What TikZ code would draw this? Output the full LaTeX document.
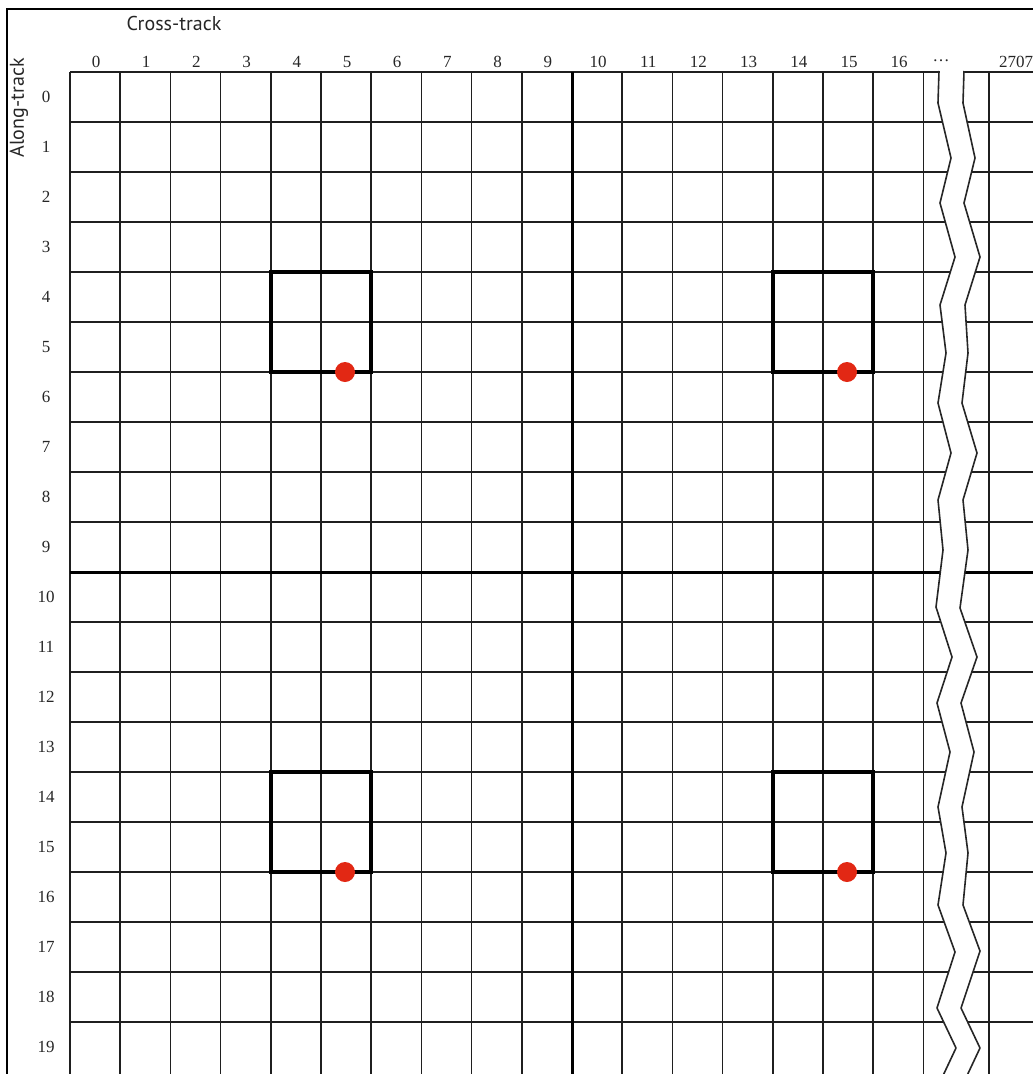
\documentclass[tikz,border=0pt]{standalone}
\usepackage{fontspec}
\setmainfont{Liberation Serif}
\newfontfamily\axisfont{PT Sans}
\definecolor{dotred}{RGB}{226,40,20}
\begin{document}
\begin{tikzpicture}[x=1pt,y=-1pt,
  gridline/.style={line width=1.7pt, black!88},
  heavyline/.style={line width=3pt, black},
  boxline/.style={line width=3.5pt, black, line join=miter},
  zigline/.style={line width=1.6pt, black!85, line join=round},
  framel/.style={line width=2.5pt, black},
  reddot/.style={circle, fill=dotred, draw=none, inner sep=0pt, minimum size=20pt},
  num/.style={font=\fontsize{17}{17}\selectfont, inner sep=0pt, text=black!85},
  axislbl/.style={font=\axisfont\fontsize{20}{20}\selectfont, inner sep=0pt, text=black!85}]
\useasboundingbox (0,0) rectangle (1033,1074);
\begin{scope}
\clip (0,0) rectangle (1033,1074);
% frame
\draw[framel] (7,1090) -- (7,9) -- (1050,9);
% grid
\foreach \i in {0,...,17} \draw[gridline] ({70+50.2*\i},72) -- ({70+50.2*\i},1080);
\draw[gridline] (989,72) -- (989,1080);
\foreach \j in {0,...,19} \draw[gridline] (70,{72+50*\j}) -- (1040,{72+50*\j});
\draw[heavyline] (572,72) -- (572,1080);
\draw[heavyline] (70,572) -- (1040,572);
% break band
\fill[white] (939,68) -- (938,103) -- (951,158) -- (940,203) -- (955,257) -- (940,305) -- (946,353) -- (938,403) -- (951,453) -- (938,500) -- (943,550) -- (936,607) -- (952,657) -- (937,703) -- (950,752) -- (938,807) -- (946,853) -- (938,905) -- (955,952) -- (937,1008) -- (956,1048) -- (940,1082)
  -- (964,1082) -- (980,1048) -- (961,1008) -- (980,951) -- (963,905) -- (968,853) -- (962,807) -- (974,752) -- (961,703) -- (977,657) -- (960,608) -- (968,550) -- (963,500) -- (977,453) -- (962,403) -- (968,353) -- (965,305) -- (980,257) -- (964,203) -- (975,158) -- (963,103) -- (964,68) -- cycle;
\draw[zigline] (939,71) -- (938,103) -- (951,158) -- (940,203) -- (955,257) -- (940,305) -- (946,353) -- (938,403) -- (951,453) -- (938,500) -- (943,550) -- (936,607) -- (952,657) -- (937,703) -- (950,752) -- (938,807) -- (946,853) -- (938,905) -- (955,952) -- (937,1008) -- (956,1048) -- (940,1082);
\draw[zigline] (964,71) -- (963,103) -- (975,158) -- (964,203) -- (980,257) -- (965,305) -- (968,353) -- (962,403) -- (977,453) -- (963,500) -- (968,550) -- (960,608) -- (977,657) -- (961,703) -- (974,752) -- (962,807) -- (968,853) -- (963,905) -- (980,951) -- (961,1008) -- (980,1048) -- (964,1082);
% boxes
\draw[boxline] (270.8,272) rectangle (371.2,372);
\draw[boxline] (772.8,272) rectangle (873.2,372);
\draw[boxline] (270.8,772) rectangle (371.2,872);
\draw[boxline] (772.8,772) rectangle (873.2,872);
\end{scope}
% red dots
\node[reddot] (d1) at (345,372) {};
\node[reddot] (d2) at (847,372) {};
\node[reddot] (d3) at (345,872) {};
\node[reddot] (d4) at (847,872) {};
% axis labels
\node[axislbl] (ct) at (174,23) {Cross-track};
\node[axislbl, rotate=90] (at) at (19,108) {Along-track};
% column numbers
\foreach \i in {0,...,16} \node[num] (c\i) at ({96+50.2*\i},62) {\i};
\node[num] (cdots) at (941,61) {\dots};
\node[num] (clast) at (1016,62) {2707};
% row numbers
\foreach \j in {0,...,19} \node[num] (r\j) at (46,{97+50*\j}) {\j};
\end{tikzpicture}
\end{document}
